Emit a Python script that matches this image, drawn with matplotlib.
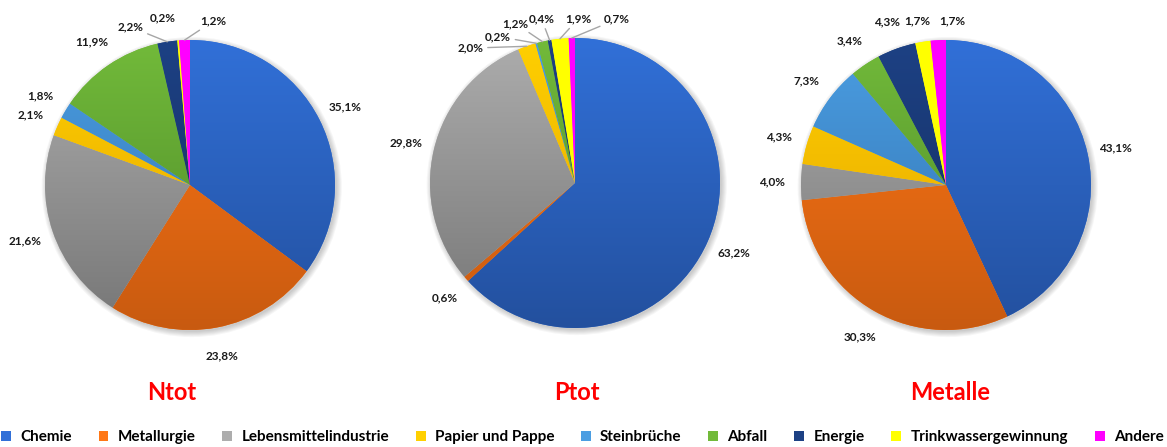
import numpy as np
import matplotlib
matplotlib.use("Agg")
import matplotlib.pyplot as plt
from matplotlib.colors import LinearSegmentedColormap
from matplotlib.patches import Patch, Circle

plt.rcParams['font.family'] = ['Lato', 'DejaVu Sans']

# categories and shares (%) per parameter
categories = ['Chemie', 'Metallurgie', 'Lebensmittelindustrie', 'Papier und Pappe',
              'Steinbrüche', 'Abfall', 'Energie', 'Trinkwassergewinnung', 'Andere']
ntot = [35.1, 23.8, 21.6, 2.1, 1.8, 11.9, 2.2, 0.2, 1.2]
ptot = [63.2, 0.6, 29.8, 2.0, 0.2, 1.2, 0.4, 1.9, 0.7]
metalle = [43.1, 30.3, 4.0, 4.3, 7.3, 3.4, 4.3, 1.7, 1.7]
titles = ['Ntot', 'Ptot', 'Metalle']

# top / bottom colour of the vertical gradient
top_colors = ['#3170D8', '#FF7716', '#ADADAD', '#FFD000', '#4C9EE2',
              '#72BA3A', '#1D4184', '#FFFF00', '#FF00FF']
bottom_colors = ['#23509E', '#C85A10', '#767676', '#E3A200', '#2F70AE',
                 '#4C8828', '#142D5E', '#FFFF00', '#FF00FF']

# pixel layout
W, H = 1167, 447
R = 145
LIM = 1.4
centers = [(190, 185), (575, 183), (946, 185)]
title_x = [172, 577, 950]

# label positions moved away from the default ring (in pie radii), and whether a leader line is drawn
label_moves = [
    {6: (-0.41, 1.09, True), 7: (-0.19, 1.15, False), 8: (0.16, 1.13, True)},
    {3: (-0.72, 0.93, True), 4: (-0.53, 1.01, True), 5: (-0.41, 1.10, True),
     6: (-0.23, 1.13, True), 7: (0.02, 1.13, True), 8: (0.29, 1.13, True)},
    {7: (-0.20, 1.13, False), 8: (0.04, 1.13, False)},
]
LBL = dict(fontsize=8.5, fontweight='bold', color='#1a1a1a', ha='center', va='center', zorder=4)


def fmt(v):
    return f"{v:.1f}".replace('.', ',') + '%'


fig = plt.figure(figsize=(W / 100, H / 100), dpi=100)
grad = np.linspace(0, 1, 256).reshape(-1, 1)

for k, vals in enumerate([ntot, ptot, metalle]):
    cx, cy = centers[k]
    size = 2 * LIM * R
    ax = fig.add_axes([(cx - size / 2) / W, (H - cy - size / 2) / H, size / W, size / H])

    # soft shadow
    for i in range(6):
        ax.add_patch(Circle((0.012, -0.014), 1.0 + 0.007 * i, color='k', alpha=0.035,
                            lw=0, zorder=0))

    wedges, _ = ax.pie(vals, colors=top_colors, startangle=90, counterclock=False,
                       radius=1, wedgeprops=dict(linewidth=0))
    for j, w in enumerate(wedges):
        w.set_zorder(1)
        cmap = LinearSegmentedColormap.from_list('g', [top_colors[j], bottom_colors[j]])
        im = ax.imshow(grad, extent=[-1, 1, -1, 1], cmap=cmap, aspect='auto',
                       origin='upper', zorder=2, interpolation='bilinear')
        im.set_clip_path(w)

    total = sum(vals)
    cum = 0
    for j, v in enumerate(vals):
        mid = (cum + v / 2) / total
        cum += v
        ang = np.deg2rad(90 - 360 * mid)
        ex, ey = np.cos(ang), np.sin(ang)
        if j in label_moves[k]:
            tx, ty, leader = label_moves[k][j]
            if leader:
                ax.annotate(fmt(v), xy=(ex, ey), xytext=(tx, ty),
                            arrowprops=dict(arrowstyle='-', color='#A6A6A6', lw=1,
                                            shrinkA=1, shrinkB=0), **LBL)
            else:
                ax.text(tx, ty, fmt(v), **LBL)
        else:
            ax.text(1.2 * ex, 1.2 * ey, fmt(v), **LBL)

    ax.set_xlim(-LIM, LIM)
    ax.set_ylim(-LIM, LIM)
    ax.axis('off')

    fig.text(title_x[k] / W, (H - 393) / H, titles[k], ha='center', va='center',
             fontsize=17, fontweight='bold', color='#FF0000')

handles = [Patch(facecolor=c, edgecolor='none') for c in top_colors]
fig.legend(handles, categories, loc='center', bbox_to_anchor=(0.499, (H - 437) / H),
           ncol=9, frameon=False, handlelength=0.65, handleheight=0.65,
           handletextpad=0.6, columnspacing=1.75, borderaxespad=0,
           prop=dict(size=11, weight='bold'))

fig.savefig('out.png', dpi=100)
